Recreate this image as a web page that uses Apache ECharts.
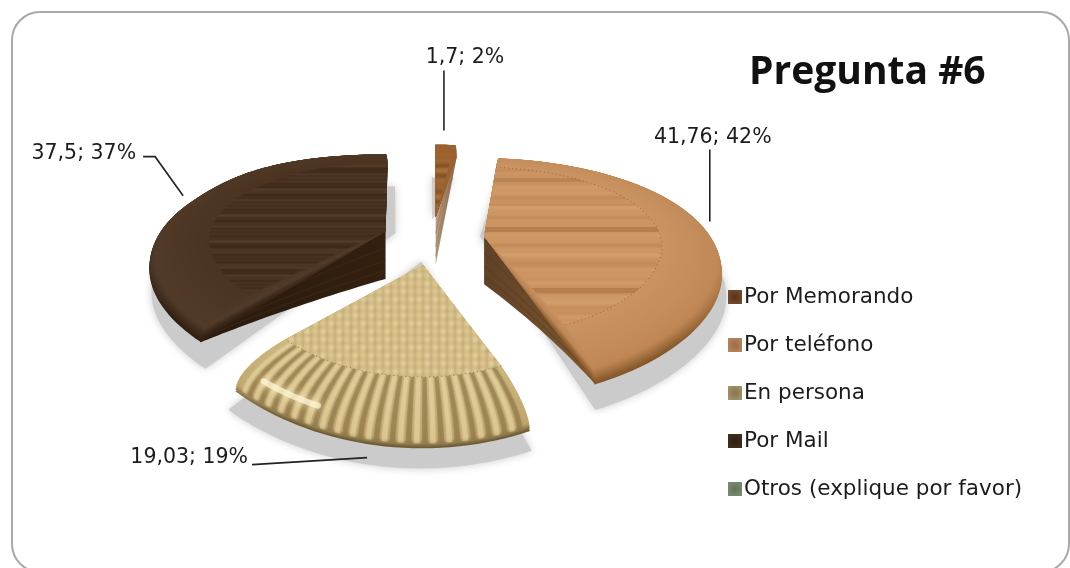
<!DOCTYPE html>
<html>
<head>
<meta charset="utf-8">
<style>html,body{margin:0;padding:0;background:#fff}#chart{width:1070px;height:568px}</style>
<script src="https://cdn.jsdelivr.net/npm/echarts@6/dist/echarts.min.js"></script>
</head>
<body>
<div id="chart"></div>
<script>
// Survey answers for question 6
const categories = ['Por Memorando', 'Por teléfono', 'En persona', 'Por Mail', 'Otros (explique por favor)'];
const values = [1.7, 41.76, 19.03, 37.5, 0];
const percents = [2, 42, 19, 37, 0];
const chartTitle = 'Pregunta #6';

const FONT = '"DejaVu Sans", sans-serif';
const total = values.reduce((a, b) => a + b, 0);

// Perspective model of the tilted disc
const CX = 433, CY = 240, EXPLODE = 0.22, SHADOW_SHIFT = -3;
const FLAT_R = 0.75, BEVEL_DROP = 22, WALL_DROP = 48, SHADOW_DROP = 42, BEVEL_POWER = 2.5;
const RINGS = 40, ARC_STEP = 2;
const rad = d => d * Math.PI / 180;

function project(deg, r, mid, expl, drop) {
  const X = r * Math.sin(rad(deg)) + expl * Math.sin(rad(mid));
  const F = -(r * Math.cos(rad(deg)) + expl * Math.cos(rad(mid)));
  const farLeft = X < 0 ? 0.14 * Math.pow(Math.max(0, (-F - 0.467) / 0.613), 2) : 0;
  const sx = 236 * (1 + 0.13 * F + farLeft);
  return [CX + X * sx, CY + 110 * F / (1 - 0.232 * F) + drop];
}
function surfaceDrop(r) {
  if (r <= FLAT_R) return 0;
  const t = Math.min(1, (r - FLAT_R) / (1 - FLAT_R));
  return BEVEL_DROP * (1 - Math.pow(1 - Math.pow(t, BEVEL_POWER), 1 / BEVEL_POWER));
}

// Procedural material swatches, softened after painting
function canvasOf(w, h, paint, blur) {
  const c = document.createElement('canvas');
  c.width = w; c.height = h;
  paint(c.getContext('2d'), w, h);
  if (!blur) return c;
  const soft = document.createElement('canvas');
  soft.width = w; soft.height = h;
  const g = soft.getContext('2d');
  g.drawImage(c, 0, 0);
  g.filter = 'blur(' + blur + 'px)';
  g.drawImage(c, 0, 0);
  return soft;
}
function grain(base, light, dark, bands, strength, freq, blur) {
  return canvasOf(1070, 568, (g, w, h) => {
    g.fillStyle = base; g.fillRect(0, 0, w, h);
    for (let y = 0; y < h; y++) {
      const a = Math.sin(y * freq) * Math.sin(y * freq * 0.19 + 1) + 0.4 * Math.sin(y * freq * 2.7);
      g.fillStyle = a > 0 ? light : dark;
      g.globalAlpha = Math.min(1, Math.abs(a) * strength);
      g.fillRect(0, y, w, 1);
    }
    g.fillStyle = dark;
    bands.forEach(b => {
      g.globalAlpha = b[2];
      g.fillRect(0, b[0], w, b[1]);
    });
    g.globalAlpha = 1;
  }, blur);
}
const weave = canvasOf(1070, 568, (g, w, h) => {
  g.fillStyle = '#d2ba83'; g.fillRect(0, 0, w, h);
  for (let x = 0; x < w; x += 8) {
    for (let y = 0; y < h; y += 8) {
      const v = Math.sin(x * 0.37) * Math.cos(y * 0.53);
      g.fillStyle = v > 0 ? '#e2cf9b' : '#dcc690';
      g.fillRect(x + 1, y + 1, 5, 5);
      g.fillStyle = '#a88f5b';
      g.globalAlpha = 0.55 + 0.35 * v;
      g.fillRect(x + 6, y + 6, 2, 2);
      g.globalAlpha = 1;
      g.fillStyle = '#bba375';
      g.fillRect(x + 6, y, 1, 6);
    }
  }
}, 1);

const materials = [
  { // Por Memorando
    flat: { image: grain('#9b622f', '#b67c43', '#6e431d', [], 0.7, 0.6, 0.8), repeat: 'repeat' },
    rim: ['#7a4c24', '#9b622f', '#9b622f'], edgeAt: 0.3,
    wall: ['#bca184', '#8d6a4c'], wallLine: '#8a6c50',
    shadow: { expl: 0.19, r: 1.03 }
  },
  { // Por teléfono
    flat: { image: grain('#cc9663', '#d9a776', '#b57c4c', [[178, 4, 0.75], [227, 5, 0.95], [288, 5, 0.95], [204, 2, 0.3], [262, 2, 0.25]], 0.35, 0.34, 0.7), repeat: 'repeat' },
    rim: ['#845628', '#c08755', '#c99362'], edgeAt: 0.3,
    wall: ['#5f4126', '#80592f'], wallLine: '#563a20', dots: '#9a6c3e',
    shadow: { expl: 0.215, r: 1.035 }
  },
  { // En persona
    flat: { image: weave, repeat: 'repeat' },
    rim: ['#6f5c37', '#bfa56c', '#cfb880'], edgeAt: 0.14,
    wall: ['#6d5a36', '#6d5a36'], wallLine: '#5a4a2c', ribs: true, dots: '#8f7a4c',
    shadow: { expl: 0.19, r: 1.03 }
  },
  { // Por Mail
    flat: { image: grain('#46301f', '#6f5136', '#2c1d11', [], 0.3, 0.62, 0.5), repeat: 'repeat' },
    rim: ['#2f1e11', '#513a28', '#4a3321'], edgeAt: 0.3,
    wall: ['#2a1a0e', '#33200f'], wallLine: '#46301e',
    shadow: { expl: 0.16, r: 1.03 }
  },
  { rim: ['#7d9077', '#7d9077', '#7d9077'], wall: ['#7d9077', '#7d9077'], wallLine: '#7d9077' }
];
const legendSwatches = ['#7a4f2d', '#bb8a63', '#a99870', '#43301f', '#7d9077'];
const legendCores = ['#54341c', '#9d6a43', '#86754c', '#2f2013', '#5f7458'];

// Leader path and label placement, relative to each slice's rim anchor
const callouts = [
  { extra: 0, path: [[-2, -5], [-2, -65]], text: [19, -78], align: 'center' },
  { extra: 0, path: [[-1, 1], [-1, -71]], text: [2, -83], align: 'center' },
  { extra: 35, path: [[-4, 0], [-119, 7]], text: [-123, 0], align: 'right' },
  { extra: 0, path: [[0, 2], [-28, -37], [-40, -37]], text: [-47, -40], align: 'right' }
];

// Slice angles follow from the values
const spans = [];
values.reduce((acc, v) => {
  const to = acc + v / total * 360;
  spans.push({ from: acc, to: to, mid: (acc + to) / 2 });
  return to;
}, 0);

function hex(c) { return [1, 3, 5].map(i => parseInt(c.substr(i, 2), 16)); }
function mix(a, b, t) {
  const A = hex(a), B = hex(b);
  return 'rgb(' + A.map((v, i) => Math.round(v + (B[i] - v) * t)).join(',') + ')';
}
function rimColor(m, t) {
  const s = m.rim, e = m.edgeAt;
  return t < e ? mix(s[0], s[1], t / e) : mix(s[1], s[2], (t - e) / (1 - e));
}
function arcPoints(s, r, expl, drop) {
  const pts = [];
  const n = Math.max(2, Math.ceil((s.to - s.from) / ARC_STEP));
  for (let i = 0; i <= n; i++) {
    pts.push(project(s.from + (s.to - s.from) * i / n, r, s.mid, expl, drop));
  }
  return pts;
}
function sectorPoints(s, r, expl, drop) {
  return [project(s.from, 0, s.mid, expl, 0)].concat(arcPoints(s, r, expl, drop));
}

// Painting order: back slices first, the front slice last
const paintOrder = [0, 3, 1, 2, 4];

function renderSlice(idx, value) {
  const s = spans[idx], m = materials[idx];
  const out = [];
  if (!value) return { type: 'group', children: out };
  let z = 10 + paintOrder.indexOf(idx) * 200;

  // Soft ground shadow
  out.push({
    type: 'polygon', z2: 1, silent: true, x: SHADOW_SHIFT,
    shape: { points: sectorPoints(s, m.shadow.r, m.shadow.expl, SHADOW_DROP) },
    style: { fill: '#cbcbcb', shadowBlur: 8, shadowColor: '#cbcbcb' }
  });

  // Visible cut faces
  const startVisible = Math.sin(rad(s.from)) < -0.01;
  const endVisible = Math.sin(rad(s.to)) > 0.01;
  [[startVisible, s.from], [endVisible, s.to]].forEach(([show, a]) => {
    if (!show) return;
    const top = [], bottom = [];
    for (let i = 0; i <= 40; i++) {
      const r = Math.sin(i / 40 * Math.PI / 2);
      top.push(project(a, r, s.mid, EXPLODE, surfaceDrop(r)));
      bottom.push(project(a, r, s.mid, EXPLODE, WALL_DROP + (BEVEL_DROP - WALL_DROP) * r));
    }
    out.push({
      type: 'polygon', z2: z++, silent: true,
      shape: { points: top.concat(bottom.slice().reverse()) },
      style: {
        fill: { type: 'linear', x: 0, y: 0, x2: 1, y2: 0, colorStops: [
          { offset: 0, color: m.wall[0] }, { offset: 1, color: m.wall[1] }] }
      }
    });
    [0.35, 0.62, 0.82].forEach(f => {
      out.push({
        type: 'polyline', z2: z++, silent: true,
        shape: { points: top.map((p, i) => [p[0] + (bottom[i][0] - p[0]) * f, p[1] + (bottom[i][1] - p[1]) * f]) },
        style: { stroke: m.wallLine, lineWidth: 1.2, opacity: 0.45, fill: 'none' }
      });
    });
  });

  // Rounded rim, outermost ring first; rings crowd where the profile is steep
  for (let i = 0; i < RINGS; i++) {
    const u = i / RINGS;
    const r = 1 - (1 - FLAT_R) * u * u;
    const calm = rimColor(m, Math.max(u, 0.45));
    out.push({
      type: 'polygon', z2: z++, silent: true,
      shape: { points: sectorPoints(s, r, EXPLODE, surfaceDrop(r)) },
      style: {
        fill: { type: 'linear', x: 0, y: 0, x2: 0, y2: 1, colorStops: [
          { offset: 0, color: calm }, { offset: 0.4, color: calm },
          { offset: 0.85, color: rimColor(m, u) }, { offset: 1, color: rimColor(m, u) }] }
      }
    });
  }

  // Ribbed rim of the woven slice, with its glossy highlight
  if (m.ribs) {
    const count = 40, step = (s.to - s.from) / count;
    for (let i = 1; i < count - 1; i++) {
      const a = s.from + i * step;
      const strip = [];
      for (let k = 0; k <= 10; k++) {
        const r = FLAT_R + (0.998 - FLAT_R) * Math.sin(k / 10 * Math.PI / 2);
        strip.push(project(a, r, s.mid, EXPLODE, surfaceDrop(r)));
      }
      for (let k = 10; k >= 0; k--) {
        const r = FLAT_R + (0.998 - FLAT_R) * Math.sin(k / 10 * Math.PI / 2);
        strip.push(project(a + step * 0.7, r, s.mid, EXPLODE, surfaceDrop(r)));
      }
      const tone = i % 2 ? '#856f43' : '#e9d8a6';
      out.push({
        type: 'polygon', z2: z++, silent: true,
        shape: { points: strip },
        style: { fill: tone, opacity: 0.42, shadowBlur: 3, shadowColor: tone }
      });
    }
    const glow = [];
    for (let a = s.to - 21; a <= s.to - 6; a += 1.5) glow.push(project(a, 0.95, s.mid, EXPLODE, surfaceDrop(0.95)));
    out.push({
      type: 'polyline', z2: z++, silent: true,
      shape: { points: glow },
      style: { stroke: '#fff6d6', lineWidth: 6, lineCap: 'round', fill: 'none', shadowBlur: 10, shadowColor: '#fff3c4', opacity: 0.75 }
    });
  }

  // Flat top with the material texture
  out.push({
    type: 'polygon', z2: z++, silent: true,
    shape: { points: sectorPoints(s, FLAT_R, EXPLODE, 0) },
    style: { fill: m.flat }
  });
  if (m.dots) {
    out.push({
      type: 'polyline', z2: z++, silent: true,
      shape: { points: arcPoints(s, FLAT_R, EXPLODE, 0) },
      style: { stroke: m.dots, lineWidth: 1, lineDash: [1, 3], fill: 'none' }
    });
  }

  // Leader line and value label
  const c = callouts[idx];
  const anchor = project(s.mid, 1, s.mid, EXPLODE, c.extra);
  out.push({
    type: 'polyline', z2: 2000, silent: true,
    shape: { points: c.path.map(d => [anchor[0] + d[0], anchor[1] + d[1]]) },
    style: { stroke: '#222', lineWidth: 1.6, fill: 'none' }
  });
  out.push({
    type: 'text', z2: 2000, silent: true,
    style: {
      x: anchor[0] + c.text[0], y: anchor[1] + c.text[1],
      text: String(value).replace('.', ',') + '; ' + percents[idx] + '%',
      font: '20.5px ' + FONT, fill: '#1c1c1c', align: c.align, verticalAlign: 'middle'
    }
  });
  return { type: 'group', children: out };
}

const chart = echarts.init(document.getElementById('chart'), null, { renderer: 'canvas' });
chart.setOption({
  backgroundColor: '#ffffff',
  animation: false,
  graphic: [
    { type: 'rect', z: 0, silent: true, shape: { x: 12, y: 12, width: 1057, height: 560, r: 28 },
      style: { fill: '#fff', stroke: '#a9a9a9', lineWidth: 2 } }
  ],
  title: {
    text: chartTitle, left: 744, top: 48,
    textStyle: { fontFamily: '"Open Sans", sans-serif', fontSize: 39, fontWeight: 'bold', color: '#111' }
  },
  legend: {
    orient: 'vertical', left: 723, top: 281, itemWidth: 14, itemHeight: 14, itemGap: 26, selectedMode: false,
    icon: 'rect',
    textStyle: { fontFamily: FONT, fontSize: 21.5, color: '#1c1c1c', padding: [0, 0, 0, -3] },
    data: categories.map((name, i) => ({
      name: name,
      itemStyle: { color: { type: 'radial', x: 0.5, y: 0.5, r: 0.7, colorStops: [
        { offset: 0, color: legendCores[i] }, { offset: 1, color: legendSwatches[i] }] } }
    }))
  },
  series: categories.map((name, i) => ({
    type: 'custom',
    name: name,
    coordinateSystem: 'none',
    silent: true,
    data: [[values[i]]],
    itemStyle: { color: legendSwatches[i] },
    renderItem: (params, api) => renderSlice(i, api.value(0))
  }))
});
</script>
</body>
</html>
